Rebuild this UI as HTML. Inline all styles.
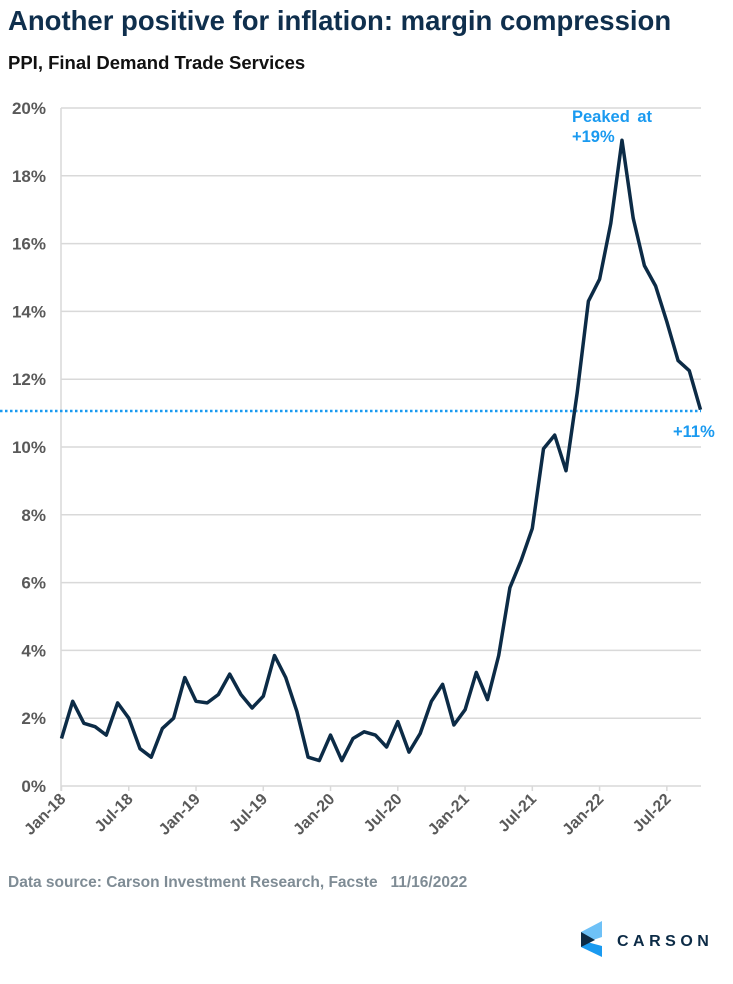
<!DOCTYPE html>
<html><head><meta charset="utf-8"><style>
body{margin:0;background:#fff;width:733px;height:979px;overflow:hidden;font-family:"Liberation Sans",Arial,sans-serif}
</style></head><body>
<svg width="733" height="979" xmlns="http://www.w3.org/2000/svg" font-family="Liberation Sans, Arial, sans-serif">
<text x="8" y="30" font-size="27.5" font-weight="bold" fill="#0f2f4d">Another positive for inflation: margin compression</text>
<text x="8" y="69" font-size="18.5" font-weight="bold" fill="#111">PPI, Final Demand Trade Services</text>
<g id="grid" stroke="#d9d9d9" stroke-width="1.5"></g>
<g id="ylab" font-size="17" font-weight="bold" fill="#595959" text-anchor="end"></g>
<g id="xlab" font-size="16" font-weight="bold" fill="#595959" text-anchor="end"></g>
<line x1="0" y1="411" x2="701" y2="411" stroke="#1a9af0" stroke-width="2.5" stroke-dasharray="2.5,2.5"/>
<polyline id="ln" fill="none" stroke="#0c2b46" stroke-width="3.5" stroke-linejoin="round"/>
<text x="572" y="122" font-size="16.5" font-weight="bold" fill="#1a9af0" word-spacing="3">Peaked at</text>
<text x="572" y="142" font-size="16.5" font-weight="bold" fill="#1a9af0">+19%</text>
<text x="673" y="437" font-size="16.5" font-weight="bold" fill="#1a9af0">+11%</text>
<text x="8" y="887" font-size="15.5" font-weight="bold" fill="#7f8c95" xml:space="preserve">Data source: Carson Investment Research, Facste   11/16/2022</text>
<polygon points="602,921 602,937 587,942 581,932" fill="#6ec1f7"/>
<polygon points="581,947 587,942 602,946 602,957" fill="#1a9af0"/>
<polygon points="581,932 595,940 581,947" fill="#0c2b46"/>
<text x="617" y="946" font-size="16" font-weight="bold" fill="#0c2b46" letter-spacing="4.5">CARSON</text>
</svg>
<script>
var d=[1.4,2.5,1.85,1.75,1.5,2.45,2.0,1.1,0.85,1.7,2.0,3.2,2.5,2.45,2.7,3.3,2.7,2.3,2.65,3.85,3.2,2.2,0.85,0.75,1.5,0.75,1.4,1.6,1.5,1.15,1.9,1.0,1.55,2.5,3.0,1.8,2.25,3.35,2.55,3.85,5.85,6.65,7.6,9.95,10.35,9.3,11.6,14.3,14.95,16.6,19.05,16.75,15.35,14.75,13.7,12.55,12.25,11.1];
function X(i){return 61.5+i*11.21}function Y(v){return 786-v*33.9}
var ns="http://www.w3.org/2000/svg";
var g=document.getElementById('grid'),yl=document.getElementById('ylab'),xl=document.getElementById('xlab');
for(var v=0;v<=20;v+=2){var l=document.createElementNS(ns,'line');l.setAttribute('x1',61);l.setAttribute('x2',701);l.setAttribute('y1',Y(v));l.setAttribute('y2',Y(v));g.appendChild(l);
var t=document.createElementNS(ns,'text');t.setAttribute('x',46);t.setAttribute('y',Y(v)+6);t.textContent=v+'%';yl.appendChild(t);}
var a=document.createElementNS(ns,'line');a.setAttribute('x1',61);a.setAttribute('x2',61);a.setAttribute('y1',108);a.setAttribute('y2',791);g.appendChild(a);
var labs=['Jan-18','Jul-18','Jan-19','Jul-19','Jan-20','Jul-20','Jan-21','Jul-21','Jan-22','Jul-22'];
for(var k=0;k<labs.length;k++){var x=X(k*6);var tk=document.createElementNS(ns,'line');tk.setAttribute('x1',x);tk.setAttribute('x2',x);tk.setAttribute('y1',786);tk.setAttribute('y2',791);g.appendChild(tk);
var t=document.createElementNS(ns,'text');t.setAttribute('transform','translate('+(x+5)+',800) rotate(-45)');t.textContent=labs[k];xl.appendChild(t);}
document.getElementById('ln').setAttribute('points',d.map(function(v,i){return X(i).toFixed(1)+','+Y(v).toFixed(1)}).join(' '));
</script>
</body></html>
